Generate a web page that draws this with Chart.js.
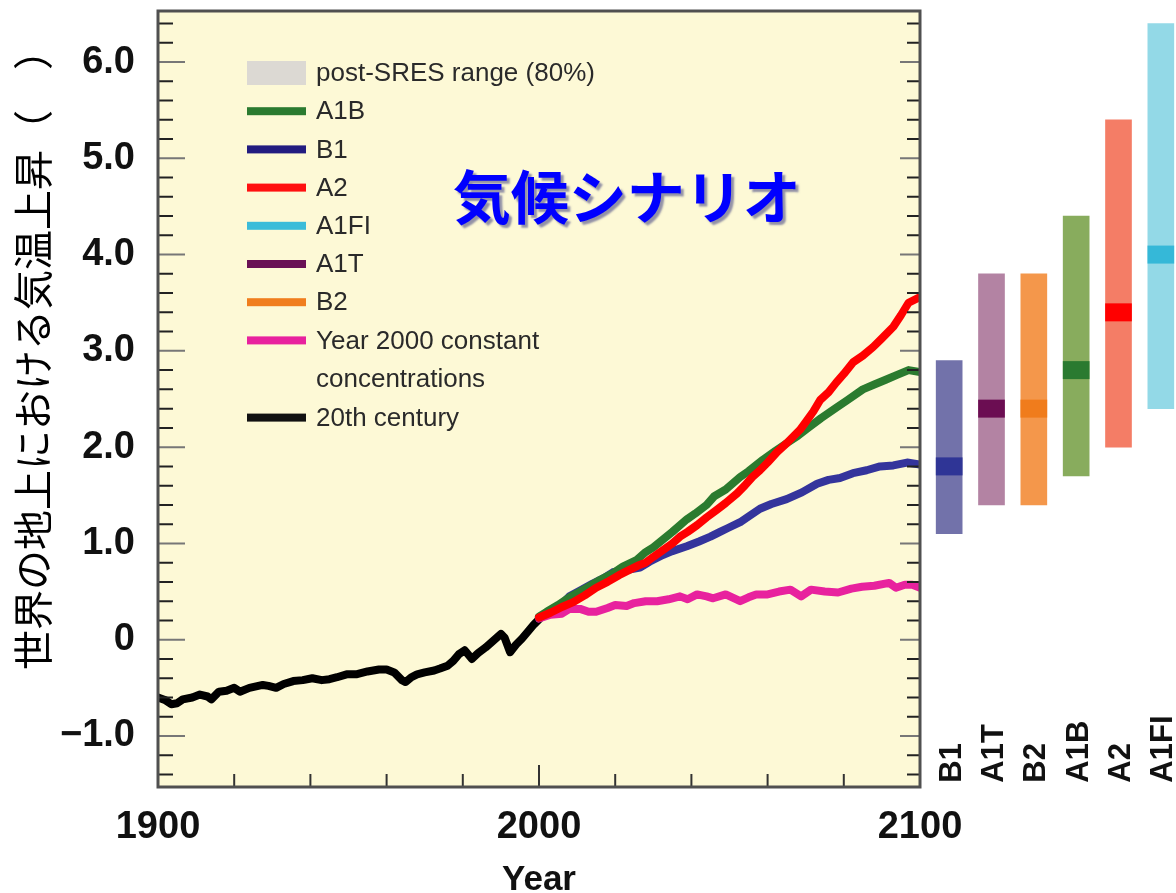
<!DOCTYPE html>
<html><head><meta charset="utf-8">
<script src="https://cdn.jsdelivr.net/npm/chart.js@4/dist/chart.umd.min.js"></script>
<style>
html,body{margin:0;padding:0;background:#fff;overflow:hidden;width:1176px;height:893px;}
#main{position:absolute;left:0;top:0;width:1176px;height:893px;}
#side{position:absolute;left:920px;top:0;width:262px;height:893px;}
</style></head><body>
<div id="main"><canvas id="c1"></canvas></div>
<div id="side"><canvas id="c2"></canvas></div>
<script>
// ---------- DATA ----------
const hist20th = [[1900,-0.60],[1902,-0.63],[1903.5,-0.67],[1905,-0.66],[1906.5,-0.62],[1909,-0.60],[1911,-0.57],[1913,-0.59],[1914,-0.62],[1916,-0.54],
  [1918,-0.53],[1920,-0.50],[1921.5,-0.54],[1924,-0.50],[1927.5,-0.47],[1929,-0.48],[1931,-0.50],[1933,-0.46],[1935.5,-0.43],[1938,-0.42],
  [1940.5,-0.40],[1943,-0.42],[1945,-0.41],[1947,-0.39],[1949.5,-0.36],[1952,-0.36],[1955,-0.33],[1958,-0.31],[1960,-0.31],[1962,-0.34],
  [1964,-0.42],[1965,-0.44],[1966.5,-0.39],[1968,-0.36],[1970,-0.34],[1972.5,-0.32],[1974,-0.30],[1976,-0.27],[1977.5,-0.22],[1979,-0.15],
  [1980.5,-0.11],[1982.4,-0.20],[1984,-0.14],[1986,-0.08],[1988,-0.01],[1990,0.06],[1991,0.02],[1992.4,-0.13],[1994,-0.05],[1995.5,0.01],
  [1997,0.08],[1998.7,0.16],[2000,0.21]];
const scenA2 = [[2000,0.23],[2003,0.28],[2006,0.34],[2009,0.39],[2012,0.46],[2015,0.54],[2018,0.60],[2021,0.67],[2024,0.73],[2026,0.77],
  [2028,0.80],[2030,0.86],[2032.5,0.93],[2035,1.00],[2037,1.07],[2039,1.12],[2041.5,1.19],[2044,1.27],[2046.7,1.35],[2049,1.42],
  [2052,1.52],[2054,1.60],[2056,1.69],[2058,1.76],[2060,1.84],[2062.5,1.95],[2065,2.04],[2068.5,2.18],[2070,2.26],[2072,2.37],
  [2073.8,2.49],[2076,2.57],[2078,2.67],[2080,2.76],[2082.4,2.88],[2085,2.95],[2087.7,3.04],[2090,3.13],[2093,3.25],[2095,3.37],
  [2097,3.50],[2100,3.56]];
const scenA1B = [[2000,0.24],[2002,0.29],[2005,0.36],[2008,0.44],[2010.8,0.50],[2013,0.55],[2016,0.62],[2019.4,0.69],[2022,0.76],[2025.7,0.83],
  [2028,0.91],[2030,0.96],[2032.5,1.04],[2035,1.12],[2038.8,1.25],[2041,1.31],[2044,1.40],[2046,1.49],[2049,1.56],[2052.8,1.69],
  [2055,1.75],[2058.8,1.87],[2062,1.96],[2065,2.04],[2068,2.12],[2071,2.21],[2074,2.30],[2078,2.41],[2081,2.49],[2085,2.60],
  [2088,2.65],[2091,2.70],[2094,2.75],[2097,2.80],[2100,2.78]];
const scenB1 = [[2000,0.23],[2003,0.30],[2006,0.37],[2008,0.45],[2010.8,0.51],[2014,0.58],[2017,0.64],[2019.4,0.70],[2022,0.72],[2024,0.73],
  [2026.5,0.75],[2029,0.81],[2032.5,0.88],[2035,0.92],[2038.8,0.97],[2042,1.02],[2045,1.07],[2047.5,1.12],[2049.6,1.16],[2052.8,1.22],
  [2055,1.28],[2058,1.36],[2061,1.41],[2065,1.46],[2069,1.53],[2073,1.62],[2076,1.66],[2079,1.68],[2082.4,1.73],[2086,1.76],
  [2089.5,1.80],[2093,1.81],[2096.6,1.84],[2100,1.82]];
const scenConst = [[2000,0.22],[2003,0.26],[2006,0.27],[2008,0.32],[2010.8,0.32],[2013,0.29],[2015,0.29],[2018,0.33],[2020,0.36],[2023,0.35],
  [2025,0.38],[2028,0.40],[2031,0.40],[2034,0.42],[2037,0.45],[2039,0.42],[2041.5,0.47],[2044,0.45],[2045.7,0.43],[2049,0.47],
  [2052.8,0.40],[2055,0.44],[2057,0.47],[2060,0.47],[2063,0.50],[2066,0.52],[2068.8,0.45],[2071.4,0.52],[2075,0.50],[2078.5,0.49],
  [2082,0.53],[2084.8,0.55],[2088,0.56],[2091.9,0.59],[2093.7,0.54],[2096,0.57],[2098,0.57],[2100,0.54]];

const legendNames = ['post-SRES range (80%)','A1B','B1','A2','A1FI','A1T','B2','Year 2000 constant\nconcentrations','20th century'];

const yTickValues = [-1,0,1,2,3,4,5,6];
const yTickLabels = ['\u22121.0','0','1.0','2.0','3.0','4.0','5.0','6.0'];
const xTickValues = [1900,1920,1940,1960,1980,2000,2020,2040,2060,2080,2100];
const xTickLabels = ['1900','','','','','2000','','','','','2100'];

const barScenarios = ['B1','A1T','B2','A1B','A2','A1FI'];
const barLow  = [1.1,1.4,1.4,1.7,2.0,2.4];
const barHigh = [2.9,3.8,3.8,4.4,5.4,6.4];
const barBest = [1.8,2.4,2.4,2.8,3.4,4.0];

const chartTitle = '\u6c17\u5019\u30b7\u30ca\u30ea\u30aa';
const yTitle = '\u4e16\u754c\u306e\u5730\u4e0a\u306b\u304a\u3051\u308b\u6c17\u6e29\u4e0a\u6607\uff08\u3000\uff09';
const xTitle = 'Year';

// ---------- STYLES ----------
const legendColors = ['#dcd9d3','#2b7b30','#221c80','#ff1010','#3bbcd9','#6a1155','#f07e1e','#e8229e','#111111'];
const barLight = ['#7272aa','#b383a3','#f4974b','#88ac5d','#f47d66','#93d9e7'];
const barDark  = ['#2f3596','#6b0d52','#f07c1c','#2a7a30','#ff0000','#35b8d8'];
const Y_MIN = -1.53, Y_MAX = 6.53;
const BAND = 0.09;
const numFont = 'Liberation Sans, Arial, sans-serif';

const toXY = arr => arr.map(p => ({x:p[0], y:p[1]}));
const lineDs = (label, arr, color, order) => ({label, data: toXY(arr), borderColor: color, backgroundColor: color,
  borderWidth: 8, pointRadius: 0, tension: 0, order, borderCapStyle:'round', borderJoinStyle:'round'});

const mainPlugin = {
  id: 'mainDecor',
  beforeDatasetsDraw(chart) {
    const {ctx, chartArea:a} = chart;
    ctx.save();
    ctx.fillStyle = '#fdf9d6';
    ctx.fillRect(a.left, a.top, a.right - a.left, a.bottom - a.top);
    ctx.restore();
  },
  afterDatasetsDraw(chart) {
    const {ctx, chartArea:a, scales:{x:xs, y:ys}} = chart;
    ctx.save();
    // inward ticks
    ctx.lineWidth = 2;
    for (let k = -7; k <= 32; k++) {
      const y = ys.getPixelForValue(k / 5);
      const major = k % 5 === 0;
      ctx.strokeStyle = major ? '#777' : '#222';
      ctx.beginPath();
      ctx.moveTo(a.left, y); ctx.lineTo(a.left + (major ? 27 : 15), y);
      ctx.moveTo(a.right, y); ctx.lineTo(a.right - (major ? 20 : 13), y);
      ctx.stroke();
    }
    ctx.strokeStyle = '#333';
    xTickValues.forEach((v) => {
      if (v === 1900 || v === 2100) return;
      const x = xs.getPixelForValue(v);
      ctx.beginPath();
      ctx.moveTo(x, a.bottom); ctx.lineTo(x, a.bottom - (v === 2000 ? 22 : 13));
      ctx.stroke();
    });
    // frame
    ctx.strokeStyle = '#505050'; ctx.lineWidth = 3;
    ctx.strokeRect(a.left, a.top, a.right - a.left, a.bottom - a.top);

    // legend
    const lx = a.left + 89, sw = 59, tx = a.left + 158;
    let ly = a.top + 62;
    ctx.font = '26px ' + numFont;
    ctx.textBaseline = 'middle'; ctx.textAlign = 'left';
    legendNames.forEach((name, i) => {
      ctx.fillStyle = legendColors[i];
      if (i === 0) ctx.fillRect(lx, ly - 12, sw, 24);
      else ctx.fillRect(lx, ly - 4, sw, 8);
      ctx.fillStyle = '#2a2a2a';
      const parts = name.split('\n');
      parts.forEach((p, j) => ctx.fillText(p, tx, ly + 1 + j * 38));
      ly += 38.2 + (parts.length - 1) * 39;
    });

    // title
    ctx.font = 'bold 58px "Noto Sans CJK JP", sans-serif';
    ctx.textAlign = 'center'; ctx.textBaseline = 'middle';
    ctx.shadowColor = 'rgba(110,110,150,0.75)';
    ctx.shadowOffsetX = 3; ctx.shadowOffsetY = 3; ctx.shadowBlur = 2;
    ctx.fillStyle = '#0000ff';
    ctx.fillText(chartTitle, xs.getPixelForValue(2023), ys.getPixelForValue(4.6));
    ctx.restore();

    // y axis title
    ctx.save();
    ctx.translate(33, 670);
    ctx.rotate(-Math.PI / 2);
    ctx.font = '40px "Noto Sans CJK JP", sans-serif';
    ctx.textAlign = 'left'; ctx.textBaseline = 'middle';
    ctx.fillStyle = '#000';
    ctx.fillText(yTitle, 0, 0);
    ctx.restore();
  }
};

new Chart(document.getElementById('c1'), {
  type: 'line',
  data: { datasets: [
    lineDs('A2', scenA2, '#ff0000', 0),
    lineDs('A1B', scenA1B, '#2b7b2f', 1),
    lineDs('B1', scenB1, '#34349c', 2),
    lineDs('Year 2000 constant concentrations', scenConst, '#e8229e', 3),
    lineDs('20th century', hist20th, '#000000', 4)
  ]},
  options: {
    responsive: true, maintainAspectRatio: false, animation: false,
    layout: { padding: { top: 11, right: 256, bottom: 0, left: 0 } },
    plugins: { legend: { display: false }, tooltip: { enabled: false } },
    scales: {
      x: {
        type: 'linear', min: 1900, max: 2100,
        afterBuildTicks: s => { s.ticks = xTickValues.map(v => ({ value: v })); },
        afterFit: s => { s.height = 106; s.paddingLeft = 0; s.paddingRight = 0; },
        ticks: { autoSkip: false, maxRotation: 0, padding: 10, color: '#111',
          font: { family: numFont, size: 38, weight: 'bold' },
          callback: (v, i) => xTickLabels[i] },
        grid: { display: false }, border: { display: false },
        title: { display: true, text: xTitle, color: '#111', padding: { top: 0, bottom: -8 },
          font: { family: numFont, size: 35, weight: 'bold' } }
      },
      y: {
        type: 'linear', min: Y_MIN, max: Y_MAX,
        afterBuildTicks: s => { s.ticks = yTickValues.map(v => ({ value: v })); },
        afterFit: s => { s.width = 158; s.paddingTop = 0; s.paddingBottom = 0; },
        ticks: { autoSkip: false, padding: 15, color: '#111',
          font: { family: numFont, size: 38, weight: 'bold' },
          callback: (v, i) => yTickLabels[i] },
        grid: { display: false }, border: { display: false }
      }
    }
  },
  plugins: [mainPlugin]
});

const sidePlugin = {
  id: 'sideLabels',
  afterDraw(chart) {
    const {ctx, scales:{x:xs, y:ys}} = chart;
    ctx.save();
    ctx.font = 'bold 31px ' + numFont;
    ctx.fillStyle = '#111';
    ctx.textAlign = 'left'; ctx.textBaseline = 'middle';
    barScenarios.forEach((name, i) => {
      ctx.save();
      ctx.translate(xs.getPixelForValue(i) + 3, ys.getPixelForValue(-1.485));
      ctx.rotate(-Math.PI / 2);
      ctx.fillText(name, 0, 0);
      ctx.restore();
    });
    ctx.restore();
  }
};

new Chart(document.getElementById('c2'), {
  type: 'bar',
  data: { labels: barScenarios, datasets: [
    { label: 'best estimate', data: barBest.map(b => [b - BAND, b + BAND]), backgroundColor: barDark,
      grouped: false, barThickness: 26, order: 0 },
    { label: 'likely range', data: barLow.map((l, i) => [l, barHigh[i]]), backgroundColor: barLight,
      grouped: false, barThickness: 26, order: 1 }
  ]},
  options: {
    responsive: true, maintainAspectRatio: false, animation: false,
    layout: { padding: { top: 11, bottom: 106, left: 8, right: 0 } },
    plugins: { legend: { display: false }, tooltip: { enabled: false } },
    scales: {
      x: { display: false },
      y: { display: false, min: Y_MIN, max: Y_MAX }
    }
  },
  plugins: [sidePlugin]
});
</script>
</body></html>
